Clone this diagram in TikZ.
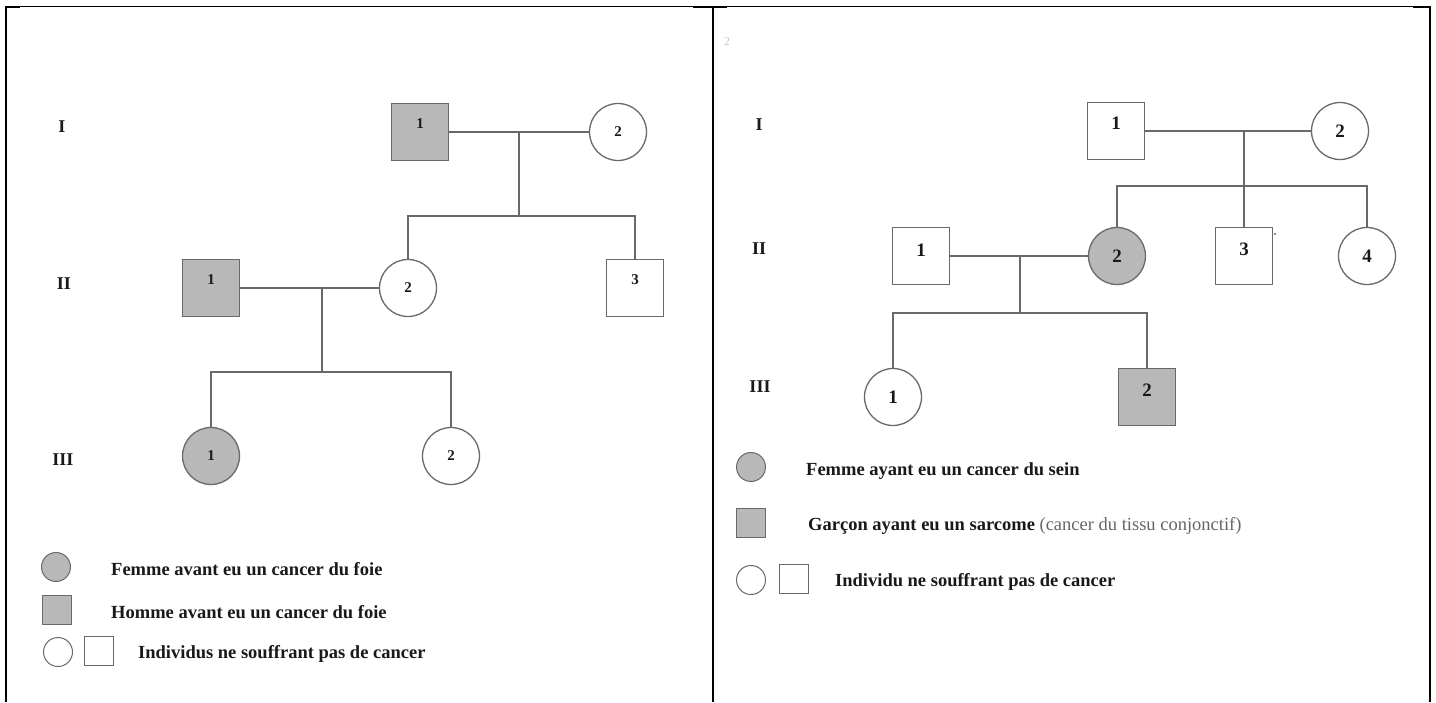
\documentclass[tikz,border=0pt]{standalone}
\usepackage{fontspec}
\setmainfont{Liberation Serif}
\definecolor{lnc}{RGB}{105,105,105}
\definecolor{afc}{RGB}{184,184,184}
\definecolor{txc}{RGB}{25,25,25}
\begin{document}
\begin{tikzpicture}[x=1pt,y=-1pt,
  sq/.style={draw=lnc, line width=1.3pt, rectangle, minimum size=57pt, inner sep=0pt},
  ci/.style={draw=lnc, line width=1.3pt, circle, minimum size=57pt, inner sep=0pt},
  aff/.style={fill=afc},
  small/.style={minimum size=29pt, line width=1pt},
  link/.style={draw=lnc, line width=1.6pt},
  frame/.style={draw=black, line width=2.4pt},
  numL/.style={font=\bfseries\fontsize{15}{15}\selectfont, text=txc},
  numR/.style={font=\bfseries\fontsize{19}{19}\selectfont, text=txc},
  gen/.style={font=\bfseries\fontsize{18}{18}\selectfont, text=txc},
  leg/.style={font=\bfseries\fontsize{18.5}{20}\selectfont, text=txc, anchor=west, inner sep=0pt},
]
\useasboundingbox (0,0) rectangle (1436,702);
% frame
\draw[black, line width=1.2pt] (5,6.5) -- (1431,6.5);
\draw[black, line width=2.4pt] (5,7) -- (20,7) (693,7) -- (727,7) (1413,7) -- (1431,7);
\draw[frame] (6,6) -- (6,702);
\draw[frame] (713,6) -- (713,702);
\draw[frame] (1430,6) -- (1430,702);
\node[text=gray!45, font=\fontsize{12}{12}\selectfont] (art) at (727,42) {2};
\fill[lnc] (1275,234) circle (1.2);

% ---------- left panel ----------
\node[gen] (LgI) at (62,127) {I};
\node[gen] (LgII) at (64,284) {II};
\node[gen] (LgIII) at (63,460) {III};

\node[sq,aff] (LI1) at (420,132) {};
\node[numL] (LI1n) at ([yshift=8pt]LI1.center) {1};
\node[ci,numL] (LI2) at (618,132) {2};
\coordinate (LIm) at (519,132);
\coordinate (LIs) at (519,216);

\node[sq,aff] (LII1) at (211,288) {};
\node[numL] (LII1n) at ([yshift=8pt]LII1.center) {1};
\node[ci,numL] (LII2) at (408,288) {2};
\node[sq] (LII3) at (635,288) {};
\node[numL] (LII3n) at ([yshift=8pt]LII3.center) {3};
\coordinate (LIIm) at (322,288);
\coordinate (LIIs) at (322,372);

\node[ci,aff,numL] (LIII1) at (211,456) {1};
\node[ci,numL] (LIII2) at (451,456) {2};

\draw[link] (LI1.east) -- (LI2.west);
\draw[link] (LIm) -- (LIs);
\draw[link] (LII2.north) |- (LIs) -| (LII3.north);
\draw[link] (LII1.east) -- (LII2.west);
\draw[link] (LIIm) -- (LIIs);
\draw[link] (LIII1.north) |- (LIIs) -| (LIII2.north);

% left legend
\node[ci,aff,small] (LL1) at (56,567) {};
\node[sq,aff,small] (LL2) at (57,610) {};
\node[ci,small] (LL3) at (58,652) {};
\node[sq,small] (LL4) at (99,651) {};
\node[leg] (LT1) at (111,569) {Femme avant eu un cancer du foie};
\node[leg] (LT2) at (111,612) {Homme avant eu un cancer du foie};
\node[leg] (LT3) at (138,654) {Individus ne souffrant pas de cancer};

% ---------- right panel ----------
\node[gen] (RgI) at (759,125) {I};
\node[gen] (RgII) at (759,249) {II};
\node[gen] (RgIII) at (760,387) {III};

\node[sq] (RI1) at (1116,131) {};
\node[numR] (RI1n) at ([yshift=8pt]RI1.center) {1};
\node[ci,numR] (RI2) at (1340,131) {2};
\coordinate (RIm) at (1244,131);
\coordinate (RIs) at (1244,186);

\node[sq] (RII1) at (921,256) {};
\node[numR] (RII1n) at ([yshift=6pt]RII1.center) {1};
\node[ci,aff,numR] (RII2) at (1117,256) {2};
\node[sq] (RII3) at (1244,256) {};
\node[numR] (RII3n) at ([yshift=7pt]RII3.center) {3};
\node[ci,numR] (RII4) at (1367,256) {4};
\coordinate (RIIm) at (1020,256);
\coordinate (RIIs) at (1020,313);

\node[ci,numR] (RIII1) at (893,397) {1};
\node[sq,aff] (RIII2) at (1147,397) {};
\node[numR] (RIII2n) at ([yshift=7pt]RIII2.center) {2};

\draw[link] (RI1.east) -- (RI2.west);
\draw[link] (RIm) -- (RII3.north);
\draw[link] (RII2.north) |- (RIs) -| (RII4.north);
\draw[link] (RII1.east) -- (RII2.west);
\draw[link] (RIIm) -- (RIIs);
\draw[link] (RIII1.north) |- (RIIs) -| (RIII2.north);

% right legend
\node[ci,aff,small] (RL1) at (751,467) {};
\node[sq,aff,small] (RL2) at (751,523) {};
\node[ci,small] (RL3) at (751,580) {};
\node[sq,small] (RL4) at (794,579) {};
\node[leg] (RT1) at (806,471) {Femme ayant eu un cancer du sein};
\node[leg] (RT2) at (808,526) {Garçon ayant eu un sarcome {\mdseries\color{gray!80!black}(cancer du tissu conjonctif)}};
\node[leg] (RT3) at (835,582) {Individu ne souffrant pas de cancer};
\end{tikzpicture}
\end{document}
